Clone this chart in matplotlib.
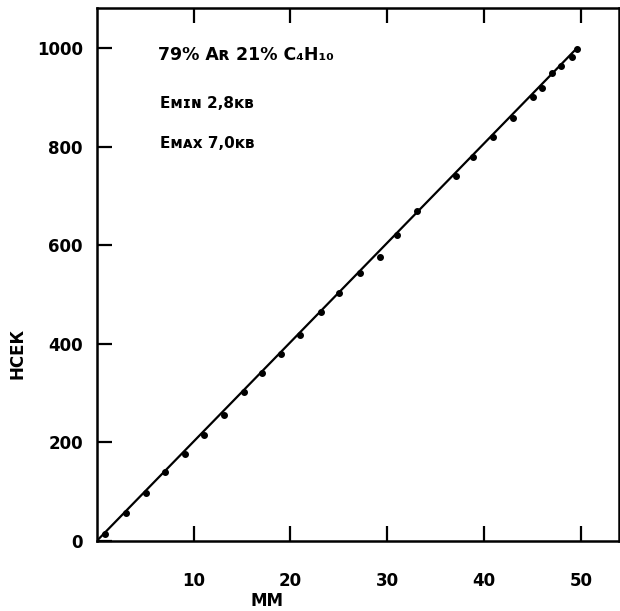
import matplotlib
matplotlib.use("Agg")
import matplotlib.pyplot as plt

# measured points (mm, count)
x_pts = [0.85, 3.0, 5.07, 7.03, 9.12, 11.04, 13.13, 15.16, 17.1, 19.07, 21.0,
         23.15, 25.0, 27.2, 29.2, 30.98, 33.06, 37.05, 38.9, 40.9, 43.0, 45.0,
         45.98, 46.99, 47.97, 49.08, 49.54]
y_pts = [15, 57, 98, 140, 176, 215, 255, 303, 340, 380, 417,
         465, 502, 543, 576, 620, 669, 741, 778, 820, 857, 900,
         919, 950, 964, 981, 997]

# fitted straight line
line_x = [0.0, 49.7]
line_y = [0.0, 1002.0]

x_ticks = [10, 20, 30, 40, 50]
y_ticks = [0, 200, 400, 600, 800, 1000]

annot = ["79% Aʀ 21% C₄H₁₀", "Eᴍɪɴ 2,8ᴋʙ", "Eᴍᴀx 7,0ᴋʙ"]

plt.rcParams['font.family'] = ['DejaVu Sans']
fig = plt.figure(figsize=(6.2, 6.11), dpi=100)
ax = fig.add_axes([0.156, 0.1146, 0.842, 0.8715])

ax.plot(line_x, line_y, color='black', lw=1.6, solid_capstyle='butt')
ax.plot(x_pts, y_pts, 'o', color='black', ms=4.0)

ax.set_xlim(0, 53.9)
ax.set_ylim(0, 1080)
ax.set_xticks(x_ticks)
ax.set_yticks(y_ticks)
ax.set_xticklabels([str(v) for v in x_ticks], fontweight='bold', fontsize=12)
ax.set_yticklabels([str(v) for v in y_ticks], fontweight='bold', fontsize=12)
ax.tick_params(axis='x', direction='in', length=10.5, width=1.6, top=True, pad=22)
ax.tick_params(axis='y', direction='in', length=10.5, width=1.6, pad=10)

for s in ax.spines.values():
    s.set_linewidth(1.8)

fig.text(267 / 620, 1 - 601 / 611, "ММ", fontweight='bold', fontsize=12,
         ha='center', va='center')
ax.set_ylabel("НСЕК", fontweight='bold', fontsize=12)
ax.yaxis.set_label_coords(-0.135, 0.353)

ax.text(0.118, 0.913, annot[0], transform=ax.transAxes, fontsize=12.5,
        fontweight='bold', va='center', ha='left')
ax.text(0.122, 0.822, annot[1], transform=ax.transAxes, fontsize=11,
        fontweight='bold', va='center', ha='left')
ax.text(0.122, 0.747, annot[2], transform=ax.transAxes, fontsize=11,
        fontweight='bold', va='center', ha='left')

fig.savefig("out.png", dpi=100)
